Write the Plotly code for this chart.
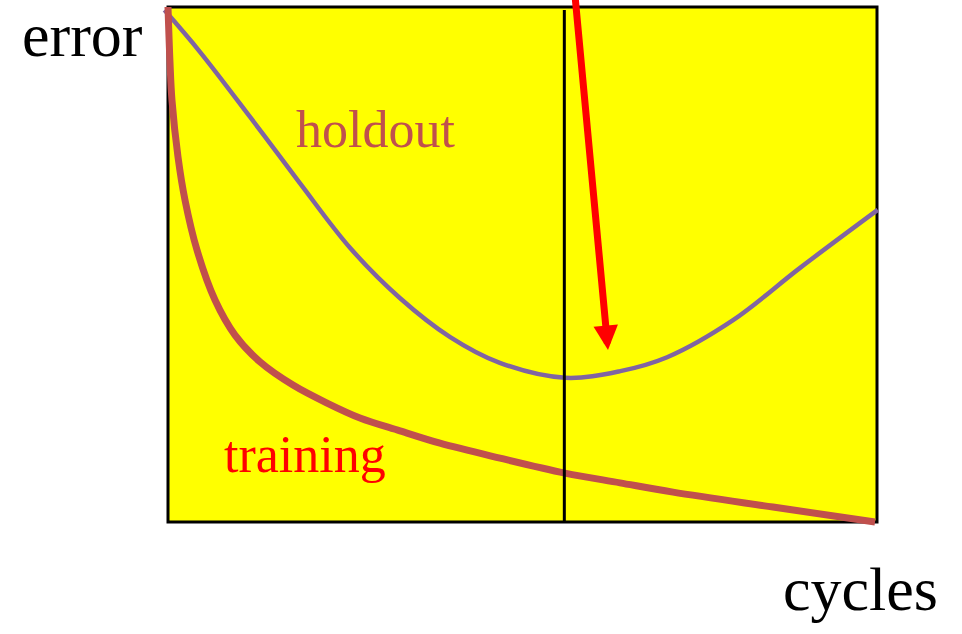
import plotly.graph_objects as go

# Data (cycles 0-100, error 0-100)
holdout_cycles = [-0.5, 4.5, 11.6, 18.6, 25.7, 32.7, 39.8, 46.8, 56.0, 63.8, 70.4, 79.7, 89.1, 100.1]
holdout_error = [99.4, 91.3, 78.6, 65.8, 53.2, 43.5, 35.9, 30.9, 28.0, 29.3, 32.0, 39.2, 49.3, 60.6]

training_cycles = [0.0, 0.28, 0.56, 1.41, 2.40, 4.09, 6.63, 9.45, 12.98, 17.63, 22.43, 27.08,
                   32.72, 38.36, 46.83, 55.99, 63.75, 71.23, 85.33, 99.72]
training_error = [100.0, 89.3, 81.9, 70.9, 62.5, 52.8, 43.1, 36.3, 31.1, 26.6, 23.1, 20.2,
                  17.7, 15.3, 12.4, 9.5, 7.6, 5.8, 2.9, 0.0]

stop_cycle = 55.9          # vertical marker (holdout minimum)
arrow_tip = (62.06, 33.4)
arrow_tail = (57.4, 102.3)

FONT = "Liberation Serif"

fig = go.Figure()
fig.add_trace(go.Scatter(x=holdout_cycles, y=holdout_error, mode="lines",
                         line=dict(color="#8064A2", width=4.5, shape="spline", smoothing=1.0),
                         hoverinfo="skip", showlegend=False))
fig.add_trace(go.Scatter(x=training_cycles, y=training_error, mode="lines",
                         line=dict(color="#C0504D", width=7, shape="spline", smoothing=1.0),
                         hoverinfo="skip", showlegend=False))

# yellow frame
fig.add_shape(type="rect", x0=0, x1=100, y0=0, y1=100, layer="below",
              fillcolor="#FFFF00", line=dict(color="black", width=3))
fig.add_shape(type="line", x0=stop_cycle, x1=stop_cycle, y0=0, y1=99.4, layer="above",
              line=dict(color="black", width=3))

fig.add_annotation(x=arrow_tip[0], y=arrow_tip[1], ax=arrow_tail[0], ay=arrow_tail[1],
                   xref="x", yref="y", axref="x", ayref="y", text="", showarrow=True,
                   arrowhead=2, arrowsize=0.7, arrowwidth=7, arrowcolor="#FF0000")

fig.add_annotation(x=-12.1, y=1.0, xref="x", yref="paper", yanchor="top", borderpad=0,
                   text="error", showarrow=False,
                   font=dict(family=FONT, size=62, color="black"))
fig.add_annotation(x=97.7, y=-13.0, xref="x", yref="y", text="cycles", showarrow=False,
                   font=dict(family=FONT, size=62, color="black"))
fig.add_annotation(x=29.3, y=76.3, xref="x", yref="y", text="holdout", showarrow=False,
                   font=dict(family=FONT, size=52, color="#C0504D"))
fig.add_annotation(x=19.3, y=13.2, xref="x", yref="y", text="training", showarrow=False,
                   font=dict(family=FONT, size=52, color="#FF0000"))

fig.update_layout(
    width=962, height=634,
    margin=dict(l=0, r=0, t=0, b=0),
    paper_bgcolor="white", plot_bgcolor="white",
    xaxis=dict(range=[-23.695, 111.989], visible=False, fixedrange=True),
    yaxis=dict(range=[-21.748, 101.359], visible=False, fixedrange=True),
    showlegend=False,
)
fig.write_html("out.html", config={"displayModeBar": False},
               post_script="document.body.style.margin='0';document.body.style.overflow='hidden';")
